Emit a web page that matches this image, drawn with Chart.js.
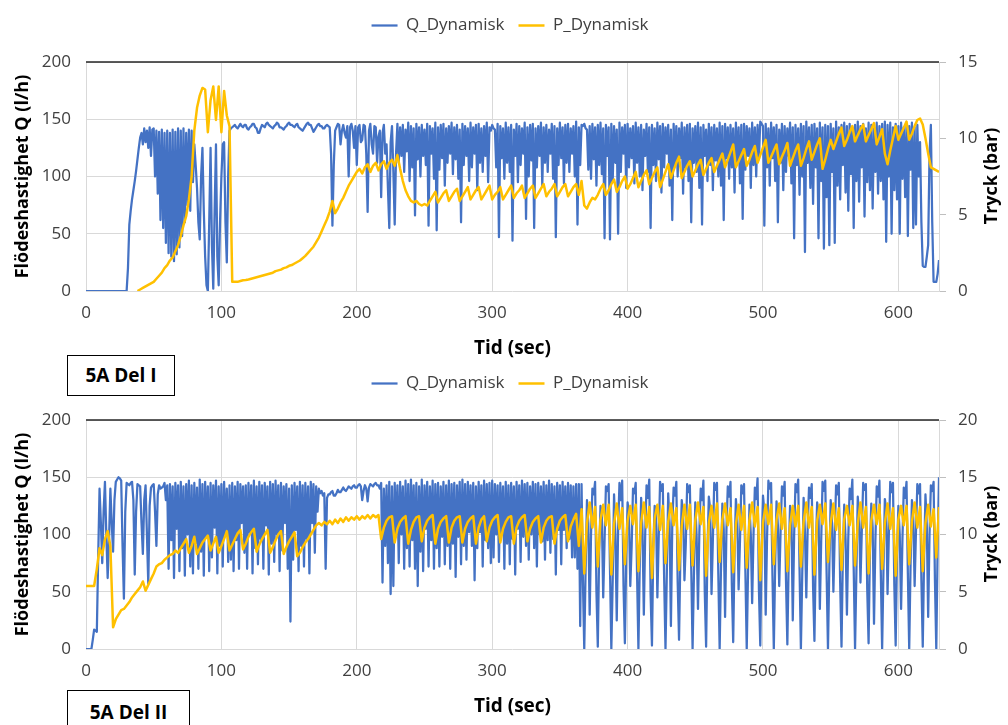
<!DOCTYPE html>
<html lang="sv">
<head>
  <meta charset="UTF-8" />
  <title>5A Del I / Del II</title>
  <script src="https://cdn.jsdelivr.net/npm/chart.js"></script>
  <style>
    body {
      margin: 0;
      background: #fff;
      font-family: 'Open Sans', sans-serif;
      width: 1008px;
      height: 725px;
      overflow: hidden;
      position: relative;
    }
    .wrap { position: absolute; left: 0; width: 1008px; height: 360px; }
    #w1 { top: 0; }
    #w2 { top: 358px; }
    .tag {
      position: absolute;
      left: 67px;
      border: 1.5px solid #000;
      background: #fff;
      font-weight: bold;
      font-size: 19px;
      color: #000;
      text-align: center;
      z-index: 5;
    }
    #tag1 { top: 355px; width: 106px; height: 39px; line-height: 39px; }
    #tag2 { top: 690px; width: 121px; height: 40px; line-height: 42px; }
    .rtitle {
      position: absolute;
      left: 990px;
      font-weight: bold;
      font-size: 18px;
      color: #000;
      white-space: nowrap;
      transform: translate(-50%, -50%) rotate(-90deg);
    }
  </style>
</head>
<body>
  <div class="wrap" id="w1"><canvas id="c1" width="1008" height="360"></canvas></div>
  <div class="wrap" id="w2"><canvas id="c2" width="1008" height="360"></canvas></div>
  <div class="rtitle" style="top:176px;">Tryck (bar)</div>
  <div class="rtitle" style="top:534px;">Tryck (bar)</div>
  <div class="tag" id="tag1">5A Del I</div>
  <div class="tag" id="tag2">5A Del II</div>

  <script>
    // flow is sampled every 1 s, pressure every 2 s, both from t = 0
    const Q_STEP = 1;
    const P_STEP = 2;

    // 5A Del I - flöde (l/h), one row = 10 s
    const qDel1 = [
      0,0,0,0,0,0,0,0,0,0,
      0,0,0,0,0,0,0,0,0,0,
      0,0,0,0,0,0,0,0,0,0,
      0,20,58,70,80,88,96,105,115,125,
      134,138,128,142,130,140,125,143,118,141,
      142,100,140,85,139,62,141,55,138,42,
      140,33,138,30,141,26,139,32,142,38,
      140,48,142,60,138,75,141,70,140,95,
      128,110,90,60,45,100,125,70,30,5,
      0,60,125,40,2,70,128,30,5,60,
      100,128,130,60,25,100,140,142,143,144,
      145,143,142,144,146,144,143,145,145,142,
      141,143,144,146,146,143,142,138,138,142,
      145,144,143,146,147,145,144,143,142,144,
      145,147,146,143,143,142,141,143,144,146,
      147,145,145,144,143,145,146,143,142,141,
      140,142,144,146,147,145,145,142,139,141,
      143,145,146,144,144,142,142,144,145,144,
      143,120,57,110,140,143,146,145,128,140,
      145,138,134,144,100,143,146,140,125,144,
      110,143,145,130,132,145,144,120,69,140,
      146,128,120,144,143,112,135,140,82,138,
      145,120,128,90,55,130,144,105,58,120,
      146,112,143,118,145,104,141,122,147,96,
      144,108,142,66,146,115,143,100,145,118,
      141,110,146,57,144,120,142,98,147,53,
      143,106,145,116,146,92,142,112,144,120,
      147,102,143,115,145,98,141,60,146,110,
      144,118,142,96,147,108,143,120,145,88,
      146,112,142,104,144,118,147,95,143,140,
      145,142,141,108,146,47,144,116,142,98,
      147,112,143,104,145,44,141,118,146,95,
      144,110,142,120,147,63,143,100,145,114,
      146,55,142,108,144,118,147,92,143,112,
      145,104,141,120,146,98,144,47,142,110,
      147,116,143,94,145,112,146,104,142,120,
      144,100,148,58,143,110,145,144,146,142,
      141,106,144,98,146,115,143,92,145,110,
      147,102,142,46,145,118,143,45,146,96,
      144,112,141,50,147,104,143,120,145,90,
      146,108,142,116,144,94,147,112,143,100,
      145,88,141,118,146,104,143,55,145,110,
      142,96,147,115,144,86,146,108,143,120,
      145,92,141,62,146,110,144,100,142,116,
      147,85,143,108,145,96,146,60,142,112,
      144,104,147,90,143,58,145,118,141,96,
      146,110,143,88,145,114,142,100,147,92,
      144,62,146,116,143,98,145,108,142,86,
      147,112,143,94,145,63,146,106,144,118,
      142,90,147,110,143,100,145,115,148,146,
      144,57,146,108,142,92,147,116,143,96,
      145,60,141,112,146,88,144,104,142,118,
      147,94,143,46,145,110,142,84,146,100,
      144,34,148,112,143,90,145,76,146,108,
      142,46,147,96,143,37,145,82,144,40,
      146,104,142,42,148,92,143,80,145,110,
      147,86,144,70,146,102,143,55,145,96,
      148,78,144,108,146,65,142,95,147,88,
      145,72,143,104,147,85,144,96,146,80,
      148,43,145,100,147,50,143,88,146,80,
      144,50,147,98,143,82,146,48,144,106,
      147,55,143,58,145,100,130,60,22,21,
      21,30,40,120,145,60,8,8,8,15,
      27
    ];

    // 5A Del I - tryck (bar), one value every 2 s
    const pDel1 = [
      null,null,null,null,null,null,null,null,null,null,
      null,null,null,null,null,null,null,null,null,0,
      0.1,0.2,0.3,0.4,0.5,0.6,0.8,1.0,1.2,1.5,
      1.7,2.0,2.2,2.6,3.0,3.6,4.3,4.9,6.0,7.5,
      10.5,12.0,12.8,13.3,13.2,10.4,12.5,13.4,11.2,13.4,
      10.4,13.1,11.5,10.8,0.6,0.6,0.6,0.65,0.7,0.72,
      0.75,0.8,0.85,0.9,0.95,1.0,1.05,1.1,1.15,1.2,
      1.3,1.35,1.4,1.5,1.55,1.65,1.7,1.8,1.9,2.0,
      2.15,2.3,2.5,2.7,2.9,3.2,3.5,3.9,4.3,4.7,
      5.2,5.9,5.1,5.4,5.8,6.1,6.5,6.9,7.2,7.5,
      7.8,8.0,7.7,8.1,8.3,7.8,8.2,8.4,7.9,8.3,
      8.5,8.0,8.4,8.6,8.2,8.9,8.0,7.2,6.6,6.2,
      5.9,5.8,5.9,5.7,5.6,5.7,
      5.6,5.9,6.2,6.5, 5.8,6.1,6.4,6.6, 5.9,6.2,6.5,6.7, 5.9,6.2,6.5,6.8,
      6.0,6.3,6.6,6.8, 6.0,6.3,6.6,6.9, 6.0,6.3,6.5,6.8, 6.0,6.3,6.6,6.9,
      6.1,6.4,6.6,6.9, 6.1,6.4,6.7,6.9, 6.1,6.4,6.7,7.0, 6.2,6.5,6.7,7.0,
      6.2,6.5,6.8,7.0, 6.2,6.5,6.8,7.0, 6.3,7.2,
      5.6,5.4,5.8,6.1,
      6.0,6.3,6.7,7.0, 6.3,6.6,7.0,7.3, 6.5,6.8,7.2,7.5, 6.7,7.0,7.4,7.8,
      6.8,7.2,7.6,7.9, 7.0,7.4,7.8,8.1, 6.8,7.3,7.8,8.3, 7.4,7.9,8.4,8.8,
      7.4,7.8,8.2,8.5, 7.5,7.9,8.3,8.6, 7.6,8.0,8.4,8.7, 7.8,8.2,8.6,9.0,
      8.1,8.6,9.1,9.6, 8.1,8.5,8.9,9.3, 8.2,8.6,9.1,9.5, 8.4,8.9,9.4,9.9,
      8.4,8.8,9.2,9.6, 8.3,8.8,9.2,9.7, 8.2,8.7,9.2,9.6, 8.2,8.7,9.3,9.8,
      8.6,9.1,9.6,10.0, 8.0,8.6,9.3,9.9, 9.3,9.8,10.3,10.7, 9.5,9.9,10.4,10.8,
      9.8,10.2,10.6,10.9, 9.8,10.2,10.6,11.0, 9.6,10.1,10.6,9.0, 8.3,9.2,10.0,10.8,
      9.9,10.3,10.7,11.1, 9.9,10.3,10.8,11.2,
      11.3,10.9,10.0,9.0,8.1,8.0,7.9,7.8
    ];

    // 5A Del II - flöde (l/h), one row = 10 s
    const qDel2 = [
      0,0,0,0,0,8,17,16,15,80,
      140,110,75,120,146,100,62,95,140,110,
      85,130,146,148,150,149,147,90,44,120,
      145,144,143,145,146,130,65,120,144,143,
      142,110,83,130,143,100,57,125,141,143,
      144,120,90,135,143,140,141,142,145,130,
      143,70,144,95,142,62,145,105,143,68,
      146,88,142,64,144,100,147,72,143,66,
      145,92,141,70,148,85,144,64,146,98,
      142,68,145,80,143,106,147,66,142,90,
      144,72,146,100,140,76,143,78,145,68,
      142,95,146,70,144,110,142,84,143,70,
      145,102,143,66,147,88,142,74,146,96,
      143,70,145,108,142,65,146,92,144,76,
      147,100,143,68,145,86,142,110,144,70,
      140,24,143,78,145,104,142,68,146,90,
      143,72,145,96,142,66,146,110,144,84,
      142,120,140,136,138,134,136,70,132,135,
      135,137,138,134,134,136,139,137,137,139,
      141,139,138,140,142,141,140,142,143,141,
      141,143,144,142,130,138,143,140,129,141,
      144,143,142,144,145,143,143,140,145,58,
      140,90,143,75,146,48,142,55,145,100,
      143,75,146,100,142,70,147,88,144,72,
      148,95,143,70,145,55,142,85,148,68,
      143,105,146,72,142,95,147,70,144,88,
      145,72,142,98,146,74,143,90,147,70,
      144,92,145,63,143,98,146,74,148,90,
      144,78,146,102,143,90,145,60,142,88,
      146,102,143,72,147,95,144,88,145,75,
      147,80,144,100,143,76,145,100,142,70,
      146,92,143,74,145,96,142,65,146,105,
      143,76,147,98,144,90,145,78,142,100,
      146,88,144,72,145,100,142,94,146,78,
      143,95,147,84,144,96,142,65,145,104,
      143,74,146,104,142,88,145,96,143,80,
      142,80,144,70,144,20,
      144,60,0,70,130,110,30,100,140,135,
      146,50,2,85,125,115,45,95,142,138,
      144,70,0,60,135,100,25,105,145,130,
      147,55,5,80,128,118,55,90,140,136,
      145,65,0,75,132,105,30,100,143,132,
      148,48,3,90,125,120,45,98,146,138,
      144,62,0,68,136,110,20,108,141,134,
      146,58,8,82,130,118,60,92,144,137,
      143,72,0,65,128,98,35,102,140,130,
      147,50,2,88,133,122,48,96,145,139,
      145,66,0,72,127,105,28,104,142,133,
      146,56,6,84,131,115,52,94,143,136,
      144,68,0,70,126,100,40,100,141,131,
      149,52,3,86,134,120,30,97,147,140,
      145,64,0,74,129,108,55,103,142,134,
      146,60,4,80,125,116,25,99,144,137,
      148,70,0,66,132,102,45,106,141,132,
      144,54,7,86,128,120,35,95,146,138,
      147,66,0,72,130,110,50,101,143,135,
      145,58,2,82,126,96,30,97,140,131,
      148,70,0,68,133,118,58,104,145,139,
      144,52,5,88,127,106,22,94,142,133,
      147,68,0,70,131,122,48,102,146,137,
      145,56,3,84,125,100,35,96,141,132,
      146,66,0,74,130,115,55,103,144,136,
      144,60,2,80,135,108,28,100,143,138,
      146,60,0,90,150
    ];

    // 5A Del II - tryck (bar), one value every 2 s
    const pDel2 = [
      5.5,5.5,5.5,5.5,7.0,8.8,8.2,9.6,10.3,9.0,
      1.9,2.6,3.0,3.4,3.5,3.8,4.1,4.5,4.8,5.1,
      5.4,5.9,5.1,5.6,6.1,6.6,7.2,7.4,7.5,7.8,
      8.0,8.2,8.3,8.6,8.4,8.8,9.2,9.6,8.4,9.0,
      9.8,8.3,8.8,9.3,9.6,9.9,8.6,9.2,9.8,8.4,
      9.0,9.6,10.3,8.6,9.1,9.6,10.1,10.4,8.7,9.2,
      9.8,10.2,10.5,8.5,9.1,9.6,10.0,10.4,8.4,8.9,
      9.5,10.0,10.3,8.3,8.9,9.4,9.8,10.2,8.1,8.4,
      8.9,9.3,9.6,10.0,10.4,10.8,11.0,10.8,11.1,10.9,
      11.2,10.9,11.3,11.0,11.4,11.1,11.5,11.2,11.5,11.3,
      11.6,11.3,11.6,11.4,11.7,11.4,11.7,11.5,11.7,
      9.6,10.6,11.2,11.5,11.6, 9.3,10.5,11.1,11.4,11.6, 9.2,10.4,11.1,11.5,11.6,
      9.4,10.6,11.2,11.5,11.7, 9.2,10.5,11.1,11.4,11.6, 9.3,10.6,11.2,11.5,11.6,
      9.3,10.5,11.1,11.4,11.6, 9.2,10.6,11.3,11.6,
      9.4,10.6,11.2,11.5,11.7, 9.3,10.5,11.1,11.5,11.6, 9.2,10.6,11.2,11.5,11.7,
      9.4,10.5,11.1,11.4,11.6, 9.3,10.6,11.2,11.5,11.6, 9.2,10.5,11.2,11.5,11.7,
      9.4,10.7,11.3,11.8, 9.0,
      12.2,6.6,11.0,12.8,10.6, 12.4,7.2,11.3,12.6,10.8, 12.6,6.5,10.9,12.7,10.5,
      12.3,7.4,11.2,12.5,10.9, 12.6,6.8,11.0,12.8,10.6, 12.4,6.2,11.4,12.6,10.4,
      12.5,7.5,11.1,12.7,10.8, 12.3,6.9,10.8,12.6,10.5, 12.6,7.3,11.2,12.8,10.9,
      12.4,6.4,11.0,12.5,10.6, 12.7,7.6,11.3,12.7,10.8, 12.3,6.7,10.9,12.6,10.4,
      12.5,7.1,11.2,12.8,10.7, 12.4,6.0,11.0,12.6,10.9, 12.6,7.4,11.3,12.7,10.5,
      12.3,6.8,10.8,12.5,10.7, 12.5,7.2,11.1,12.8,10.6, 12.4,6.5,11.2,12.6,10.9,
      12.7,7.6,11.0,12.7,10.4, 12.3,6.9,11.3,12.5,10.8, 12.5,7.3,10.9,12.8,10.6,
      12.4,6.6,11.2,12.6,10.9, 12.6,7.0,11.0,12.7,10.5, 12.3,6.4,11.3,12.5,10.8,
      12.5,7.4,11.1,12.8,10.6, 12.4,6.8,11.0,12.6,10.7,
      12.2,8.0,12.4
    ];

    const X_MAX = 630;
    const Q_MAX = 200;

    Chart.defaults.font.family = "'Open Sans', sans-serif";
    Chart.defaults.color = '#404040';

    const toPoints = (arr, step) => arr.map((v, i) => ({ x: i * step, y: v }));

    // dark line along the top of the plot area
    const topLine = {
      id: 'topLine',
      afterDraw(chart) {
        const { ctx, chartArea } = chart;
        ctx.save();
        ctx.strokeStyle = '#262626';
        ctx.lineWidth = 1.5;
        ctx.beginPath();
        ctx.moveTo(chartArea.left, chartArea.top);
        ctx.lineTo(chartArea.right, chartArea.top);
        ctx.stroke();
        ctx.restore();
      }
    };

    // extra space under the legend
    const legendGap = {
      id: 'legendGap',
      beforeInit(chart) {
        const fit = chart.legend.fit;
        chart.legend.fit = function () {
          fit.bind(chart.legend)();
          this.height += 18;
        };
      }
    };

    function makeChart(id, q, p, pMax) {
      return new Chart(document.getElementById(id), {
        type: 'line',
        data: {
          datasets: [
            {
              label: 'Q_Dynamisk', data: toPoints(q, Q_STEP), yAxisID: 'y',
              borderColor: '#4472C4', borderWidth: 2.25, order: 1
            },
            {
              label: 'P_Dynamisk', data: toPoints(p, P_STEP), yAxisID: 'y1',
              borderColor: '#FFC000', borderWidth: 2.5, order: 0
            }
          ]
        },
        options: {
          responsive: false,
          animation: false,
          devicePixelRatio: 1,
          layout: { padding: { top: 3, left: 12, right: 0, bottom: 0 } },
          elements: {
            point: { radius: 0 },
            line: { tension: 0, borderJoinStyle: 'round', backgroundColor: 'transparent' }
          },
          plugins: {
            tooltip: { enabled: false },
            legend: {
              position: 'top',
              labels: {
                usePointStyle: true,
                pointStyle: 'line',
                pointStyleWidth: 26,
                padding: 14,
                font: { size: 17 },
                color: '#404040',
                sort: (a, b) => a.datasetIndex - b.datasetIndex
              }
            }
          },
          scales: {
            x: {
              type: 'linear', min: 0, max: X_MAX,
              ticks: { stepSize: 100, includeBounds: false, padding: 12, font: { size: 17 }, color: '#404040' },
              grid: { color: '#d9d9d9', drawTicks: false },
              border: { display: false },
              title: { display: true, text: 'Tid (sec)', font: { size: 19, weight: 'bold' }, color: '#000', padding: { top: 4, bottom: 0 } },
              afterFit: s => { s.height = 69; }
            },
            y: {
              position: 'left', min: 0, max: Q_MAX,
              ticks: { stepSize: 50, padding: 15, font: { size: 17 }, color: '#404040' },
              grid: { color: '#d9d9d9', drawTicks: false },
              border: { display: false },
              title: { display: true, text: 'Flödeshastighet Q (l/h)', font: { size: 18, weight: 'bold' }, color: '#000', padding: 0 },
              afterFit: s => { s.width = 74; }
            },
            y1: {
              position: 'right', min: 0, max: pMax,
              ticks: { stepSize: 5, padding: 12, font: { size: 17 }, color: '#404040' },
              grid: { drawOnChartArea: false, drawTicks: true, tickLength: 7, color: '#bfbfbf' },
              border: { display: true, color: '#d9d9d9' },
              afterFit: s => { s.width = 69; }
            }
          }
        },
        plugins: [topLine, legendGap]
      });
    }

    makeChart('c1', qDel1, pDel1, 15);
    makeChart('c2', qDel2, pDel2, 20);
  </script>
</body>
</html>
